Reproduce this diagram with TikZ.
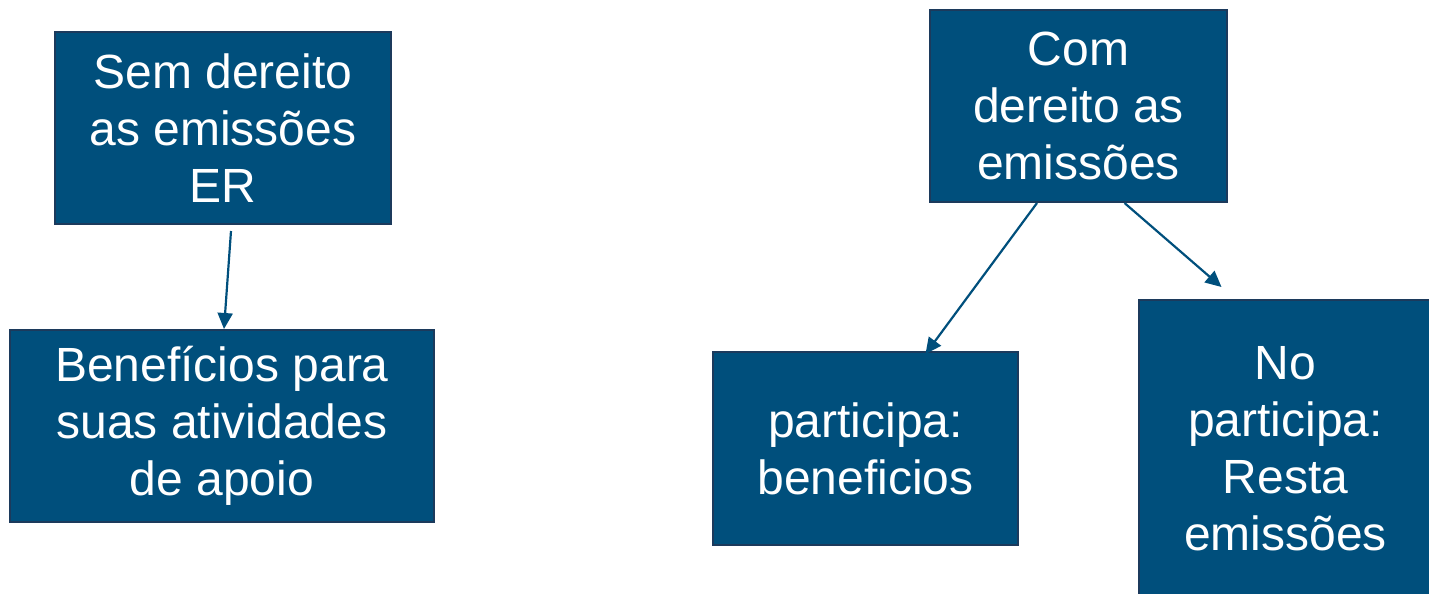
\documentclass[tikz,border=0pt]{standalone}
\usepackage{fontspec}
\setmainfont{Liberation Sans}
\usetikzlibrary{arrows.meta}
\definecolor{boxblue}{RGB}{0,79,124}
\definecolor{boxedge}{RGB}{28,58,92}
\tikzset{
  bluebox/.style={draw=boxedge, line width=1pt, fill=boxblue, text=white,
    align=center, inner sep=0pt, font=\fontsize{24}{28.5}\selectfont},
  link/.style={draw=boxblue, line width=1.1pt, -{Triangle[width=7.5pt,length=8pt]}}
}
\begin{document}
\begin{tikzpicture}[x=0.5pt,y=-0.5pt]
                \useasboundingbox (0,0) rectangle (1429,594);
                \clip (0,0) rectangle (1429,594);
                \node[bluebox, minimum width=168pt, minimum height=96pt] (sem) at (223,128) {Sem dereito\\as emissões\\ER};
                \node[bluebox, minimum width=212pt, minimum height=96pt] (ben) at (222,426) {Benefícios para\\suas atividades\\de apoio};
                \node[bluebox, minimum width=148.5pt, minimum height=96pt] (com) at (1078.5,106) {Com\\dereito as\\emissões};
                \node[bluebox, minimum width=152.5pt, minimum height=96.5pt] (part) at (865.5,448.5) {participa:\\beneficios};
                \node[bluebox, minimum width=146.5pt, minimum height=148.5pt] (nopart) at (1285.5,448.5) {No\\participa:\\Resta\\emissões};
                \draw[link] ([xshift=4pt,yshift=-3pt]sem.south) -- ([xshift=1pt]ben.north);
                \draw[link] ([xshift=-20.75pt]com.south) -- ([xshift=30pt,yshift=-1.5pt]part.north);
                \draw[link] ([xshift=23pt]com.south) -- ([xshift=-32pt,yshift=6pt]nopart.north);
\end{tikzpicture}
\end{document}
